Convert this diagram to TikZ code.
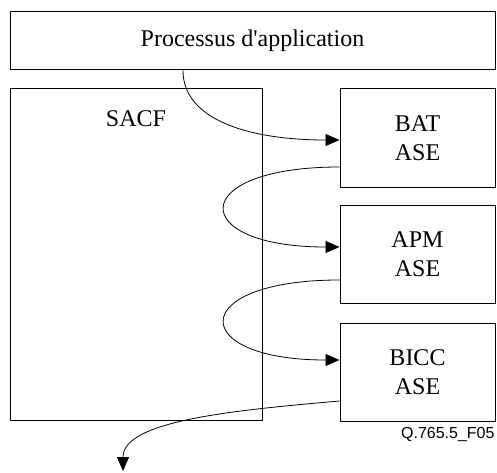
\documentclass[tikz,border=0pt]{standalone}
\usepackage{fontspec}
\setmainfont{Liberation Serif}
\newfontfamily\figfont{Liberation Sans}
\usetikzlibrary{arrows.meta}

\begin{document}
\begin{tikzpicture}[x=0.5pt, y=0.5pt, line width=0.5pt,
    font=\fontsize{12}{14.5}\selectfont,
    box/.style={draw, align=center, inner sep=0pt},
    ase/.style={box, minimum width=77.5pt, minimum height=49pt},
    link/.style={line width=0.4pt, -{Triangle[length=7pt, width=6pt]}}]
          \useasboundingbox (0, 0) rectangle (497, 472);
          \node [box, minimum width=242.5pt, minimum height=29pt] (proc) at (252.5, 431) {Processus d\textquotesingle application};
          \node [box, minimum width=126pt, minimum height=165.5pt] (sacf) at (136, 217.5) {};
          \node [anchor=base] (sacfname) at (136, 345) {SACF};
          \foreach \N/\T/\Y in {bat/BAT/334, apm/APM/218, bicc/BICC/100} {
            \node [ase] (\N) at (417.5, \Y) {\T\\ASE};
          }
          \node [anchor=base east, inner sep=0pt, font=\figfont\fontsize{8}{9.6}\selectfont] (figid) at (495, 34) {Q.765.5\_F05};
          \coordinate (out) at (123, 1);
          \draw [link] ([xshift=-34.75pt]proc.south) to [out=-90, in=180, out looseness=0.74, in looseness=1.34] ([yshift=-1pt]bat.west);
          \draw [link] ([yshift=-14.5pt]bat.west) to [out=180, in=180, looseness=4.9] ([yshift=3.5pt]apm.west);
          \draw [link] ([yshift=-13pt]apm.west) to [out=180, in=180, looseness=4.9] ([yshift=6pt]bicc.west);
          \draw [link] ([yshift=-14.5pt]bicc.west) to [out=185, in=90, out looseness=1.24, in looseness=0.56] (out);
        \end{tikzpicture}
\end{document}
